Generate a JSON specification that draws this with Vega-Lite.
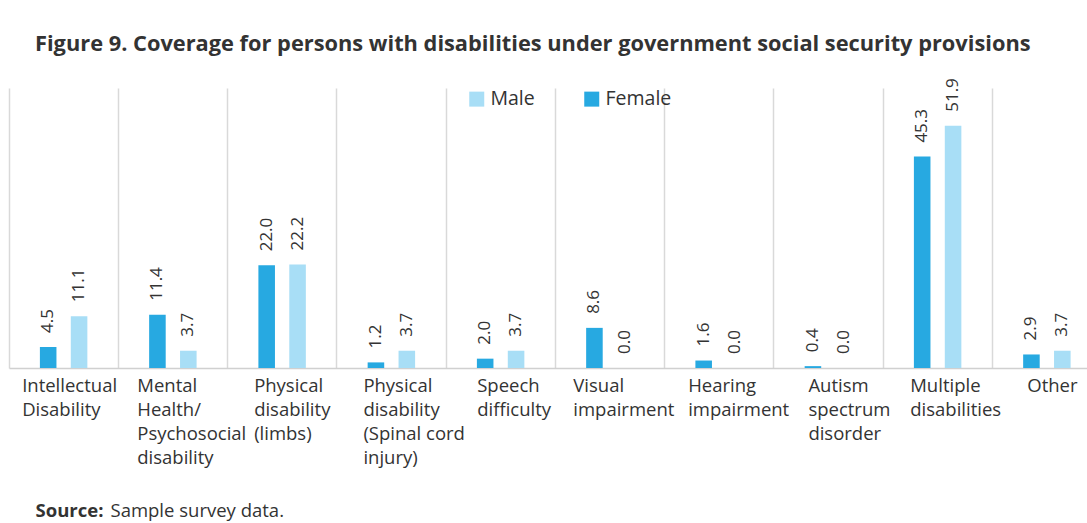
{
  "$schema": "https://vega.github.io/schema/vega-lite/v6.json",
  "width": 1092.5,
  "height": 280,
  "autosize": {"type": "none"},
  "padding": {"left": 9, "top": 88, "right": 0, "bottom": 155},
  "background": "white",
  "config": {"view": {"stroke": null}},
  "title": {
    "text": "Figure 9. Coverage for persons with disabilities under government social security provisions",
    "anchor": "start",
    "dx": 26,
    "offset": 22,
    "font": "Open Sans",
    "fontSize": 21.8,
    "fontWeight": "bold",
    "color": "#333333"
  },
  "data": {
    "values": [
      {"category": "Intellectual|Disability", "sex": "Female", "value": 4.5},
      {"category": "Intellectual|Disability", "sex": "Male", "value": 11.1},
      {"category": "Mental|Health/|Psychosocial|disability", "sex": "Female", "value": 11.4},
      {"category": "Mental|Health/|Psychosocial|disability", "sex": "Male", "value": 3.7},
      {"category": "Physical|disability|(limbs)", "sex": "Female", "value": 22.0},
      {"category": "Physical|disability|(limbs)", "sex": "Male", "value": 22.2},
      {"category": "Physical|disability|(Spinal cord|injury)", "sex": "Female", "value": 1.2},
      {"category": "Physical|disability|(Spinal cord|injury)", "sex": "Male", "value": 3.7},
      {"category": "Speech|difficulty", "sex": "Female", "value": 2.0},
      {"category": "Speech|difficulty", "sex": "Male", "value": 3.7},
      {"category": "Visual|impairment", "sex": "Female", "value": 8.6},
      {"category": "Visual|impairment", "sex": "Male", "value": 0.0},
      {"category": "Hearing|impairment", "sex": "Female", "value": 1.6},
      {"category": "Hearing|impairment", "sex": "Male", "value": 0.0},
      {"category": "Autism|spectrum|disorder", "sex": "Female", "value": 0.4},
      {"category": "Autism|spectrum|disorder", "sex": "Male", "value": 0.0},
      {"category": "Multiple|disabilities", "sex": "Female", "value": 45.3},
      {"category": "Multiple|disabilities", "sex": "Male", "value": 51.9},
      {"category": "Other", "sex": "Female", "value": 2.9},
      {"category": "Other", "sex": "Male", "value": 3.7}
    ]
  },
  "encoding": {
    "x": {
      "field": "category",
      "type": "nominal",
      "sort": null,
      "scale": {"paddingInner": 0, "paddingOuter": 0},
      "axis": {
        "bandPosition": 0,
        "grid": true,
        "gridColor": "#d9d9d9",
        "gridWidth": 1.5,
        "ticks": false,
        "domainColor": "#d0d0d0",
        "domainWidth": 1.5,
        "labelAngle": 0,
        "labelAlign": "left",
        "labelBaseline": "top",
        "labelPadding": 8,
        "labelFont": "Open Sans",
        "labelFontSize": 18.5,
        "labelColor": "#333333",
        "labelLineHeight": 24,
        "labelLimit": 250,
        "labelOverlap": false,
        "labelExpr": "split(datum.label, '|')",
        "labelOffset": {
          "condition": [
            {"test": "datum.value === 'Intellectual|Disability'", "value": -41.5},
            {"test": "datum.value === 'Mental|Health/|Psychosocial|disability'", "value": -35.6},
            {"test": "datum.value === 'Physical|disability|(limbs)'", "value": -28},
            {"test": "datum.value === 'Physical|disability|(Spinal cord|injury)'", "value": -28},
            {"test": "datum.value === 'Speech|difficulty'", "value": -23.4},
            {"test": "datum.value === 'Visual|impairment'", "value": -36.6},
            {"test": "datum.value === 'Hearing|impairment'", "value": -31},
            {"test": "datum.value === 'Autism|spectrum|disorder'", "value": -20},
            {"test": "datum.value === 'Multiple|disabilities'", "value": -27.4}
          ],
          "value": -19.6
        },
        "title": "Sample survey data.",
        "titleX": 101,
        "titleY": 142,
        "titleAlign": "left",
        "titleBaseline": "middle",
        "titleFont": "Open Sans",
        "titleFontSize": 18.5,
        "titleFontWeight": "normal",
        "titleColor": "#333333"
      }
    },
    "xOffset": {
      "field": "sex",
      "type": "nominal",
      "scale": {"domain": ["Female", "Male"], "paddingInner": 0.464, "paddingOuter": 1.18}
    },
    "y": {
      "field": "value",
      "type": "quantitative",
      "scale": {"domain": [0, 60], "nice": false},
      "axis": {
        "labels": false,
        "ticks": false,
        "domain": false,
        "grid": false,
        "title": "Source:",
        "titleAngle": 0,
        "titleX": 26,
        "titleY": 422,
        "titleAlign": "left",
        "titleBaseline": "middle",
        "titleFont": "Open Sans",
        "titleFontSize": 18.5,
        "titleFontWeight": "bold",
        "titleColor": "#333333"
      }
    }
  },
  "layer": [
    {
      "mark": {"type": "bar"},
      "encoding": {
        "color": {
          "field": "sex",
          "type": "nominal",
          "scale": {"domain": ["Male", "Female"], "range": ["#a8def6", "#27a9e1"]},
          "legend": {
            "orient": "none",
            "legendX": 458,
            "legendY": 1,
            "direction": "horizontal",
            "title": null,
            "padding": 0,
            "symbolType": "square",
            "symbolSize": 225,
            "symbolStrokeWidth": 0,
            "labelFont": "Open Sans",
            "labelFontSize": 19.5,
            "labelColor": "#333333",
            "labelOffset": 4,
            "columnPadding": 47,
            "encode": {
              "symbols": {
                "update": {
                  "fill": {"signal": "datum.value === 'Male' ? '#40c4f0' : '#0082c8'"},
                  "opacity": {"value": 1}
                }
              }
            }
          }
        }
      }
    },
    {
      "mark": {
        "type": "text",
        "angle": 270,
        "align": "left",
        "baseline": "middle",
        "dx": 14,
        "font": "Open Sans",
        "fontSize": 17,
        "color": "#333333"
      },
      "encoding": {
        "text": {"field": "value", "type": "quantitative", "format": ".1f"}
      }
    }
  ]
}
